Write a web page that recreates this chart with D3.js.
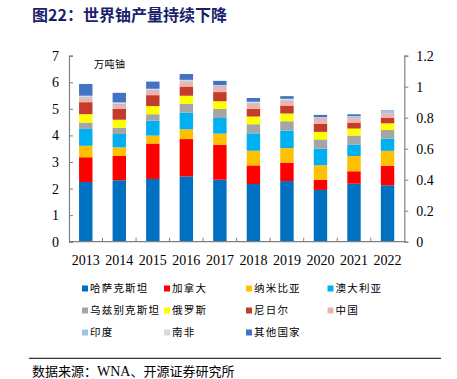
<!DOCTYPE html>
<html><head><meta charset="utf-8">
<script src="https://cdn.jsdelivr.net/npm/d3@7"></script>
<style>
html,body{margin:0;padding:0;background:#fff;}
svg{display:block;}
</style></head>
<body>
<svg id="c" width="457" height="379"></svg>
<script>
const years = ["2013","2014","2015","2016","2017","2018","2019","2020","2021","2022"];
const seriesNames = ["哈萨克斯坦","加拿大","纳米比亚","澳大利亚","乌兹别克斯坦","俄罗斯","尼日尔","中国","印度","南非","其他国家"];
const kazakhstan = [2.245,2.313,2.361,2.459,2.332,2.171,2.281,1.948,2.182,2.123];
const canada     = [0.933,0.913,1.333,1.404,1.312,0.700,0.694,0.389,0.469,0.735];
const namibia    = [0.432,0.326,0.299,0.365,0.422,0.553,0.548,0.541,0.575,0.561];
const australia  = [0.635,0.500,0.565,0.632,0.588,0.652,0.661,0.620,0.419,0.455];
const uzbekistan = [0.240,0.240,0.239,0.333,0.340,0.345,0.350,0.350,0.350,0.330];
const russia     = [0.314,0.299,0.306,0.300,0.292,0.290,0.291,0.285,0.264,0.251];
const niger      = [0.452,0.406,0.412,0.348,0.345,0.291,0.298,0.299,0.225,0.202];
const china      = [0.150,0.150,0.162,0.162,0.189,0.189,0.189,0.189,0.160,0.170];
const india      = [0.040,0.039,0.039,0.039,0.042,0.042,0.031,0.040,0.062,0.060];
const southAfrica= [0.053,0.057,0.039,0.049,0.031,0.035,0.035,0.025,0.019,0.020];
const others     = [0.440,0.360,0.270,0.220,0.160,0.140,0.100,0.085,0.070,0.030];
const leftTicks  = [0,1,2,3,4,5,6,7];
const rightTicks = [0,0.2,0.4,0.6,0.8,1,1.2];
const colors = ["#0070C0","#FF0000","#FFC000","#00B0F0","#A5A5A5","#FFFF00","#C43C2C","#F2B2AA","#9DC3E6","#D9D9D9","#4472C4"];

const seriesData = [kazakhstan,canada,namibia,australia,uzbekistan,russia,niger,china,india,southAfrica,others];
const table = years.map((y,i)=>{const o={year:y}; seriesNames.forEach((n,k)=>o[n]=seriesData[k][i]); return o;});
const stacked = d3.stack().keys(seriesNames)(table);

const svg = d3.select("#c");
const L=69, R=404.3, T=55.7, B=241.7;
const x = d3.scaleBand().domain(years).range([L,R]).paddingInner(0.6).paddingOuter(0.3);
const y = d3.scaleLinear().domain([0,7]).range([B,T]);
const y2 = d3.scaleLinear().domain([0,1.2]).range([B,T]);

// title
svg.append("text").attr("x",32).attr("y",21).attr("font-family","'Noto Sans CJK SC'").attr("font-weight",700)
  .attr("font-size",16).attr("fill","#1A1F6E").text("图22：世界铀产量持续下降");

// bars
const g = svg.append("g");
g.selectAll("g.s").data(stacked).join("g").attr("fill",(d,i)=>colors[i])
  .selectAll("rect").data(d=>d).join("rect")
  .attr("x",d=>x(d.data.year)).attr("width",x.bandwidth())
  .attr("y",d=>y(d[1])).attr("height",d=>Math.max(0,y(d[0])-y(d[1])));

const axisColor="#808080";
const ga = svg.append("g").attr("transform",`translate(${L},0)`)
  .call(d3.axisLeft(y).tickValues(leftTicks).tickSize(-4).tickPadding(10).tickFormat(d3.format("d")));
const gb = svg.append("g").attr("transform",`translate(${R},0)`)
  .call(d3.axisRight(y2).tickValues(rightTicks).tickSize(4).tickPadding(8).tickFormat(d=>String(d)));
const gx = svg.append("g").attr("transform",`translate(0,${B})`)
  .call(d3.axisBottom(x).tickSize(0).tickPadding(13));
[ga,gb,gx].forEach(a=>{
  a.select(".domain").attr("stroke",axisColor).attr("stroke-width",1.2);
  a.selectAll(".tick line").attr("stroke",axisColor);
  a.selectAll("text").attr("font-family","'Liberation Serif'").attr("font-size",14).attr("fill","#000");
});
gx.select(".domain").attr("d",`M${L},0H${R}`);
const bounds = years.slice(1).map(yr=>x(yr)-x.step()*x.paddingInner()/2);
svg.append("g").selectAll("line").data(bounds).join("line")
  .attr("x1",d=>d).attr("x2",d=>d).attr("y1",B).attr("y2",B-4).attr("stroke",axisColor);

// unit label
svg.append("text").attr("x",94).attr("y",68).attr("font-family","'Noto Sans CJK SC'").attr("font-size",10)
  .attr("letter-spacing",0.5).attr("fill","#000").text("万吨铀");

// legend
const legX=[82,164,246,327.5], legY=[288.5,310.5,332.5];
const lg = svg.append("g");
seriesNames.forEach((n,i)=>{
  const cx=legX[i%4], cy=legY[Math.floor(i/4)];
  lg.append("rect").attr("x",cx).attr("y",cy-3).attr("width",6).attr("height",6).attr("fill",colors[i]);
  lg.append("text").attr("x",cx+8).attr("y",cy+3.8).attr("font-family","'Noto Sans CJK SC'").attr("font-size",10.5)
    .attr("letter-spacing",1.2).attr("fill","#000").text(n);
});

// footer
svg.append("line").attr("x1",29).attr("x2",441).attr("y1",358.3).attr("y2",358.3).attr("stroke","#000").attr("stroke-width",1);
const ft = svg.append("text").attr("x",32).attr("y",376).attr("font-family","'Noto Sans CJK SC'").attr("font-size",13).attr("fill","#000");
ft.append("tspan").text("数据来源：");
ft.append("tspan").attr("font-family","'Liberation Serif'").attr("font-size",14).text("WNA");
ft.append("tspan").text("、开源证券研究所");
</script>
</body></html>
